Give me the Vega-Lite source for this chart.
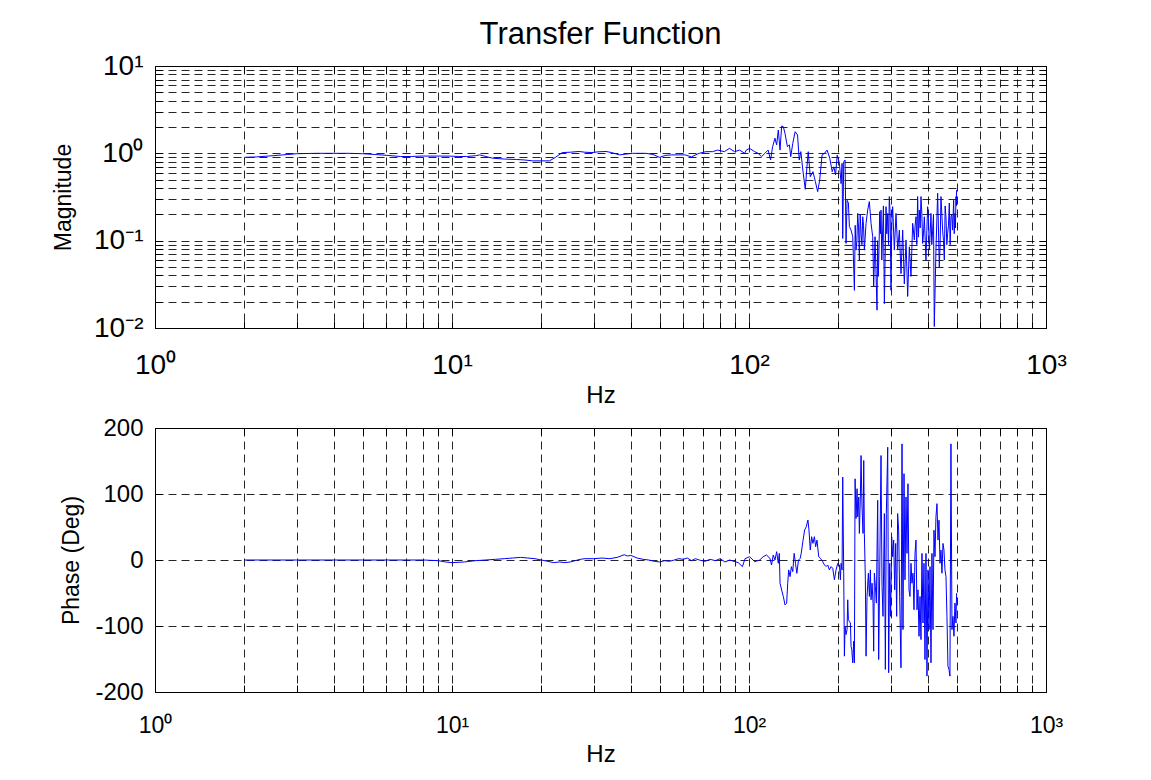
{
  "$schema": "https://vega.github.io/schema/vega-lite/v6.json",
  "background": "white",
  "padding": {"left": 52, "top": 18, "right": 10, "bottom": 10},
  "spacing": 100,
  "bounds": "flush",
  "config": {
    "view": {"stroke": "#000", "strokeWidth": 1},
    "font": "Liberation Sans",
    "axis": {
      "labelFont": "Liberation Sans", "titleFont": "Liberation Sans",
      "labelColor": "#000", "titleColor": "#000", "titleFontWeight": "normal",
      "domain": false, "gridColor": "#000", "gridDash": [8, 5], "gridOpacity": 0.85, "gridWidth": 1,
      "tickColor": "#000", "tickSize": -7, "labelOverlap": false, "labelFlush": false, "labelBound": false
    }
  },
  "datasets": {
    "mag": [
      {"f":2,"m":0.9},{"f":2.2,"m":0.91},{"f":2.5,"m":0.94},{"f":2.8,"m":0.97},{"f":3,"m":0.99},{"f":3.5,"m":1.0},{"f":4,"m":1.0},{"f":4.5,"m":1.0},{"f":5,"m":0.99},{"f":5.5,"m":0.97},{"f":6,"m":0.95},{"f":6.7,"m":0.92},{"f":7.3,"m":0.92},{"f":7.8,"m":0.93},{"f":8.5,"m":0.93},{"f":9.2,"m":0.93},{"f":9.8,"m":0.93},{"f":10.5,"m":0.92},{"f":11.2,"m":0.92},{"f":12,"m":0.94},{"f":12.4,"m":0.96},{"f":13,"m":0.92},{"f":13.7,"m":0.88},{"f":15,"m":0.86},{"f":16.5,"m":0.85},{"f":17.5,"m":0.84},{"f":18.7,"m":0.82},{"f":20,"m":0.82},{"f":21.3,"m":0.82},{"f":22.3,"m":0.9},{"f":23.5,"m":1.02},{"f":25,"m":1.03},{"f":26.8,"m":1.05},{"f":28,"m":1.03},{"f":29.6,"m":1.02},{"f":31,"m":1.04},{"f":33,"m":1.05},{"f":34.5,"m":1.02},{"f":36.6,"m":0.96},{"f":38.5,"m":0.98},{"f":40.5,"m":1.0},{"f":43,"m":1.0},{"f":45,"m":1.0},{"f":47.5,"m":0.97},{"f":50,"m":0.9},{"f":52.5,"m":0.95},{"f":55,"m":0.96},{"f":58,"m":0.96},{"f":61,"m":0.96},{"f":64,"m":0.91},{"f":67,"m":0.98},
      {"f":68,"m":1.0},{"f":71.6,"m":1.045},{"f":75.4,"m":1.045},{"f":78.4,"m":1.09},{"f":82.6,"m":1.045},{"f":85.9,"m":1.14},{"f":89.4,"m":1.045},{"f":93,"m":1.09},{"f":96.7,"m":1.0},{"f":97.9,"m":1.09},{"f":100.5,"m":1.14},{"f":104.5,"m":1.045},{"f":107.3,"m":1.0},{"f":110.2,"m":0.916},{"f":113.1,"m":1.0},{"f":116,"m":1.09},{"f":118.2,"m":0.84},{"f":120.1,"m":1.19},{"f":122.3,"m":1.49},{"f":123.9,"m":1.25},{"f":125.5,"m":1.85},{"f":127.2,"m":1.09},{"f":128.8,"m":2.05},{"f":130.5,"m":2.02},{"f":132.2,"m":1.69},{"f":134.7,"m":1.19},{"f":136.8,"m":1.25},{"f":138.2,"m":0.916},{"f":140.4,"m":1.3},{"f":143,"m":1.77},{"f":145.7,"m":1.62},{"f":147.6,"m":0.84},{"f":149.5,"m":1.045},{"f":151.8,"m":0.644},{"f":154.7,"m":0.387},{"f":156.7,"m":0.7},{"f":158.3,"m":1.045},{"f":160.8,"m":0.54},{"f":164.2,"m":0.617},{"f":167.3,"m":0.474},{"f":170.3,"m":0.364},{"f":173,"m":0.495},{"f":176.2,"m":0.957},{"f":179.5,"m":1.0},{"f":183.2,"m":1.09},{"f":187.1,"m":0.877},{"f":190.6,"m":0.617},{"f":193.1,"m":0.7},{"f":195.6,"m":0.565},{"f":198.2,"m":0.957},
      {"f":201.6,"m":0.77},{"f":204.2,"m":0.45},{"f":205.8,"m":0.77},{"f":206.8,"m":0.106},{"f":208.4,"m":0.8},{"f":210.6,"m":0.84},{"f":212.2,"m":0.093},{"f":213.9,"m":0.29},{"f":216.1,"m":0.27},{"f":217.8,"m":0.145},{"f":220.6,"m":0.132},{"f":223.5,"m":0.111},{"f":226.4,"m":0.027},{"f":227.8,"m":0.15},{"f":229.3,"m":0.078},{"f":230.8,"m":0.1},{"f":232.3,"m":0.205},{"f":233.8,"m":0.14},{"f":235.3,"m":0.06},{"f":236.8,"m":0.2},{"f":238.4,"m":0.121},{"f":240,"m":0.09},{"f":241.5,"m":0.188},{"f":243,"m":0.15},{"f":244.6,"m":0.078},{"f":247.8,"m":0.158},{"f":251,"m":0.224},{"f":254.2,"m":0.28},{"f":257.6,"m":0.158},{"f":260.9,"m":0.111},{"f":262.9,"m":0.03},{"f":265.7,"m":0.111},{"f":269.8,"m":0.016},{"f":271,"m":0.1},{"f":272.6,"m":0.039},{"f":274,"m":0.08},{"f":275.4,"m":0.215},{"f":277,"m":0.12},{"f":278.3,"m":0.224},{"f":280,"m":0.06},{"f":281.9,"m":0.132},{"f":283.5,"m":0.25},{"f":285.6,"m":0.019},{"f":287.5,"m":0.07},{"f":289.3,"m":0.245},{"f":291,"m":0.12},{"f":293.1,"m":0.205},{"f":295,"m":0.09},{"f":296.8,"m":0.32},{"f":298.7,"m":0.2},{"f":300.7,"m":0.027},{"f":302.5,"m":0.15},{"f":304.6,"m":0.245},{"f":308.6,"m":0.078},{"f":312.6,"m":0.205},{"f":316.7,"m":0.078},{"f":320.8,"m":0.132},{"f":324.9,"m":0.042},{"f":329.2,"m":0.132},{"f":333.4,"m":0.032},{"f":337.8,"m":0.102},{"f":342.2,"m":0.023},{"f":346.6,"m":0.085},{"f":351.1,"m":0.039},{"f":355.7,"m":0.158},{"f":360.3,"m":0.102},{"f":362.5,"m":0.15},{"f":365,"m":0.188},{"f":367.3,"m":0.09},{"f":369.7,"m":0.32},{"f":372,"m":0.11},{"f":374.5,"m":0.224},{"f":377,"m":0.14},{"f":379.4,"m":0.32},{"f":382,"m":0.2},{"f":384.3,"m":0.093},{"f":386.8,"m":0.12},{"f":389.3,"m":0.188},{"f":392,"m":0.1},{"f":394.3,"m":0.06},{"f":397,"m":0.13},{"f":399.5,"m":0.245},{"f":402,"m":0.18},{"f":404.7,"m":0.078},{"f":407.3,"m":0.12},{"f":409.9,"m":0.205},{"f":412.6,"m":0.09},{"f":415.3,"m":0.132},{"f":418,"m":0.2},{"f":420.6,"m":0.0104},{"f":426.1,"m":0.078},{"f":431.7,"m":0.35},{"f":437.3,"m":0.05},{"f":440,"m":0.09},{"f":443,"m":0.32},{"f":446,"m":0.2},{"f":448.7,"m":0.132},{"f":451.6,"m":0.1},{"f":454.6,"m":0.06},{"f":457.5,"m":0.25},{"f":460.5,"m":0.188},{"f":463.5,"m":0.09},{"f":466.5,"m":0.121},{"f":469.5,"m":0.15},{"f":472.5,"m":0.27},{"f":475.6,"m":0.09},{"f":478.7,"m":0.188},{"f":481.8,"m":0.2},{"f":484.9,"m":0.132},{"f":488.7,"m":0.29},{"f":491,"m":0.12},{"f":493.7,"m":0.205},{"f":495.6,"m":0.14},{"f":497.6,"m":0.32},{"f":499,"m":0.25},{"f":500,"m":0.38}
    ],
    "ph": [
      {"f":2,"p":0},{"f":3,"p":0},{"f":4,"p":0},{"f":5,"p":0},{"f":6,"p":0},{"f":7,"p":0},{"f":8,"p":0},{"f":9,"p":-1},{"f":9.5,"p":-3},{"f":10,"p":-4},{"f":11,"p":-3},{"f":12,"p":-1},{"f":13,"p":0},{"f":14,"p":1},{"f":15,"p":2},{"f":16,"p":3},{"f":17,"p":4},{"f":18,"p":3},{"f":19,"p":2},{"f":20,"p":0},{"f":21,"p":-2},{"f":22,"p":-4},{"f":23,"p":-3},{"f":24,"p":-4},{"f":25,"p":-3},{"f":26,"p":-1},{"f":27,"p":1},{"f":28,"p":2},{"f":30,"p":2},{"f":32,"p":3},{"f":34,"p":2},{"f":36,"p":4},{"f":38,"p":8},{"f":39,"p":6},{"f":40,"p":7},{"f":42,"p":3},{"f":44,"p":1},{"f":46,"p":0},{"f":48,"p":-2},{"f":50,"p":-3},{"f":52,"p":-1},{"f":54,"p":-2},{"f":56,"p":0},{"f":58,"p":2},{"f":60,"p":1},{"f":62,"p":3},{"f":64,"p":-1},{"f":66,"p":2},
      {"f":68,"p":0},{"f":71,"p":-2},{"f":74,"p":1},{"f":77,"p":-1},{"f":80,"p":2},{"f":83,"p":-3},{"f":86,"p":0},{"f":89,"p":-2},{"f":92,"p":-4},{"f":95,"p":-10},{"f":97,"p":2},
      {"f":100.5,"p":5},{"f":104.5,"p":-2.5},{"f":108.7,"p":0},{"f":111.6,"p":5},{"f":114.5,"p":7.6},{"f":117.6,"p":2.5},{"f":119.1,"p":-7.6},{"f":120.7,"p":7.6},{"f":122.3,"p":0},{"f":123.9,"p":12.6},{"f":125.5,"p":-5},{"f":126.5,"p":10.1},{"f":127.2,"p":-35.3},{"f":128.8,"p":-45.4},{"f":130.5,"p":-55.4},{"f":132.2,"p":-68},{"f":133.9,"p":-65.5},{"f":135,"p":-35.3},{"f":136,"p":-15.1},{"f":137.5,"p":-25.2},{"f":138.9,"p":-10.1},{"f":140.4,"p":-17.6},{"f":141.9,"p":10.1},{"f":143.4,"p":-5},{"f":144.9,"p":-20.2},{"f":146.8,"p":0},{"f":148.7,"p":2.5},{"f":149.9,"p":10.1},{"f":151.8,"p":27.7},{"f":153.9,"p":45.4},{"f":155.9,"p":50.4},{"f":157.9,"p":60.5},{"f":159.2,"p":45.4},{"f":160.8,"p":15.1},{"f":162.5,"p":35.3},{"f":164.2,"p":25.2},{"f":166,"p":35.3},{"f":167.7,"p":20.2},{"f":169.4,"p":30.2},{"f":171.7,"p":5},{"f":174,"p":2.5},
      {"f":177.1,"p":-2.5},{"f":179.5,"p":-7.5},{"f":181.8,"p":-10},{"f":184.1,"p":-7.5},{"f":186.5,"p":-15},{"f":189,"p":-10},{"f":191.4,"p":-12.6},{"f":193.9,"p":-30},{"f":196.4,"p":-15},{"f":199,"p":-5},{"f":201.6,"p":-7.5},{"f":203.1,"p":-30},{"f":204.2,"p":-5},{"f":205.8,"p":-15},{"f":206.8,"p":125.6},{"f":208.4,"p":-20},{"f":209.5,"p":-145.7},{"f":210.6,"p":-100.5},{"f":212.2,"p":-113},{"f":213.9,"p":-105.5},{"f":215,"p":-60.3},{"f":216.1,"p":-90.5},{"f":217.8,"p":-93},{"f":219.5,"p":-95.5},{"f":220.6,"p":-130.7},{"f":221.8,"p":-135.7},{"f":223.5,"p":-155.8},{"f":225.2,"p":-123},{"f":226.4,"p":-155.8},{"f":227.6,"p":123},{"f":229.3,"p":62.8},{"f":231.1,"p":108},{"f":232.3,"p":65.3},{"f":234.1,"p":95.5},{"f":235.3,"p":40.2},{"f":237.1,"p":95.5},{"f":238.4,"p":158.3},{"f":240.2,"p":80.4},{"f":242.1,"p":40.2},{"f":243.4,"p":150.8},{"f":244.6,"p":40.2},{"f":246.5,"p":-30},{"f":247.8,"p":-145.7},{"f":249.7,"p":-55.3},{"f":252.3,"p":-20},{"f":254.3,"p":-55.3},{"f":256.2,"p":-15},{"f":257.6,"p":-60.3},{"f":259.6,"p":-35.2},{"f":261.6,"p":-65.3},{"f":262.9,"p":-138.2},{"f":264.3,"p":-20},{"f":266.4,"p":-40.2},{"f":268.4,"p":-65.3},{"f":271.2,"p":90.5},{"f":273.3,"p":-150.8},{"f":275.4,"p":-25.1},{"f":278.3,"p":158.3},{"f":280.5,"p":-40.2},{"f":282.6,"p":-85.4},{"f":285.6,"p":70.4},{"f":287.8,"p":-165.8},{"f":290,"p":70.4},{"f":293.1,"p":170.9},{"f":295.3,"p":-170.9},{"f":297.6,"p":-5},{"f":299.9,"p":-85.4},{"f":302.3,"p":35.2},{"f":304.6,"p":5},{"f":307,"p":30.2},{"f":309.4,"p":-45.2},{"f":311.8,"p":25.1},{"f":314.2,"p":-85.4},{"f":316.6,"p":70.4},{"f":319.1,"p":45.2},{"f":321.6,"p":-55.3},{"f":324.9,"p":-163.3},{"f":327.5,"p":175.9},{"f":330,"p":-105.5},{"f":332.6,"p":130.7},{"f":335.1,"p":-30},{"f":337.8,"p":95.5},{"f":340.4,"p":10},{"f":343,"p":115.6},{"f":345.7,"p":-45.2},{"f":348.4,"p":-55.3},{"f":351.1,"p":-5},{"f":353.8,"p":-35.2},{"f":356.6,"p":-20},{"f":359.4,"p":-75.4},{"f":362.2,"p":10},{"f":365,"p":30.2},{"f":367.8,"p":-75.4},{"f":370.7,"p":-45.2},{"f":373.6,"p":-115.6},{"f":376.5,"p":-55.3},{"f":379.4,"p":-120.6},{"f":382.3,"p":10},{"f":385.3,"p":-95.5},{"f":388.3,"p":-5},{"f":391.3,"p":-150.8},{"f":394.4,"p":10},{"f":397.4,"p":-175.9},{"f":400.5,"p":-15},{"f":403.7,"p":-105.5},{"f":406.8,"p":-10},{"f":410,"p":-155.8},{"f":413.1,"p":10},{"f":416.4,"p":-105.5},{"f":419.6,"p":45.2},{"f":422.9,"p":5},{"f":426.1,"p":65.3},{"f":429.5,"p":85.4},{"f":432.8,"p":30.2},{"f":436.2,"p":60.3},{"f":439.6,"p":-5},{"f":443,"p":15.1},{"f":446.4,"p":-20},{"f":449.9,"p":25.1},{"f":453.4,"p":15.1},{"f":456.9,"p":-15},{"f":460.5,"p":-25.1},{"f":464,"p":-85.4},{"f":467.6,"p":-160.8},{"f":471.3,"p":-165.8},{"f":474.9,"p":-175.9},{"f":478.6,"p":175.9},{"f":482.4,"p":-105.5},{"f":486.1,"p":-85.4},{"f":489.9,"p":-115.6},{"f":493.7,"p":-65.3},{"f":497.5,"p":-95.5},{"f":500,"p":-50.3}
    ]
  },
  "vconcat": [
    {
      "width": 891,
      "height": 262,
      "title": {"text": "Transfer Function", "font": "Liberation Sans", "fontSize": 31, "fontWeight": "normal", "color": "#000", "anchor": "middle", "offset": 1},
      "layer": [
        {
          "data": {"name": "mag"},
          "mark": {"type": "line", "color": "#0000ff", "strokeWidth": 1, "clip": true},
          "encoding": {
            "x": {"field": "f", "type": "quantitative",
              "scale": {"type": "log", "domain": [1, 1000], "nice": false},
              "axis": {"orient": "bottom", "grid": true,
                "values": [1,2,3,4,5,6,7,8,9,10,20,30,40,50,60,70,80,90,100,200,300,400,500,600,700,800,900,1000],
                "labelExpr": "datum.value === 1 ? '10⁰' : datum.value === 10 ? '10¹' : datum.value === 100 ? '10²' : datum.value === 1000 ? '10³' : ''",
                "labelFontSize": 28, "labelPadding": 30, "title": "Hz", "titleFontSize": 24, "titlePadding": 4}},
            "y": {"field": "m", "type": "quantitative",
              "scale": {"type": "log", "domain": [0.01, 10], "nice": false},
              "axis": {"orient": "left", "grid": true,
                "values": [0.01,0.02,0.03,0.04,0.05,0.06,0.07,0.08,0.09,0.1,0.2,0.3,0.4,0.5,0.6,0.7,0.8,0.9,1,2,3,4,5,6,7,8,9,10],
                "labelExpr": "datum.value === 0.01 ? '10⁻²' : datum.value === 0.1 ? '10⁻¹' : datum.value === 1 ? '10⁰' : datum.value === 10 ? '10¹' : ''",
                "labelFontSize": 28, "labelPadding": 19, "title": "Magnitude", "titleFontSize": 23, "titlePadding": 18}}
          }
        },
        {
          "data": {"name": "mag"},
          "mark": {"type": "line", "opacity": 0},
          "encoding": {
            "x": {"field": "f", "type": "quantitative",
              "scale": {"type": "log", "domain": [1, 1000], "nice": false},
              "axis": {"orient": "top", "grid": false, "labels": false, "title": null,
                "values": [1,2,3,4,5,6,7,8,9,10,20,30,40,50,60,70,80,90,100,200,300,400,500,600,700,800,900,1000]}},
            "y": {"field": "m", "type": "quantitative",
              "scale": {"type": "log", "domain": [0.01, 10], "nice": false},
              "axis": {"orient": "right", "grid": false, "labels": false, "title": null,
                "values": [0.01,0.02,0.03,0.04,0.05,0.06,0.07,0.08,0.09,0.1,0.2,0.3,0.4,0.5,0.6,0.7,0.8,0.9,1,2,3,4,5,6,7,8,9,10]}}
          }
        }
      ],
      "resolve": {"axis": {"x": "independent", "y": "independent"}}
    },
    {
      "width": 891,
      "height": 264,
      "layer": [
        {
          "data": {"name": "ph"},
          "mark": {"type": "line", "color": "#0000ff", "strokeWidth": 1, "clip": true},
          "encoding": {
            "x": {"field": "f", "type": "quantitative",
              "scale": {"type": "log", "domain": [1, 1000], "nice": false},
              "axis": {"orient": "bottom", "grid": true,
                "values": [1,2,3,4,5,6,7,8,9,10,20,30,40,50,60,70,80,90,100,200,300,400,500,600,700,800,900,1000],
                "labelExpr": "datum.value === 1 ? '10⁰' : datum.value === 10 ? '10¹' : datum.value === 100 ? '10²' : datum.value === 1000 ? '10³' : ''",
                "labelFontSize": 23, "labelPadding": 29, "title": "Hz", "titleFontSize": 24, "titlePadding": 5}},
            "y": {"field": "p", "type": "quantitative",
              "scale": {"domain": [-200, 200], "nice": false},
              "axis": {"orient": "left", "grid": true, "values": [-200,-100,0,100,200],
                "labelExpr": "'' + datum.value",
                "labelFontSize": 24, "labelPadding": 19, "title": "Phase (Deg)", "titleFontSize": 23, "titlePadding": 11}}
          }
        },
        {
          "data": {"name": "ph"},
          "mark": {"type": "line", "opacity": 0},
          "encoding": {
            "x": {"field": "f", "type": "quantitative",
              "scale": {"type": "log", "domain": [1, 1000], "nice": false},
              "axis": {"orient": "top", "grid": false, "labels": false, "title": null,
                "values": [1,2,3,4,5,6,7,8,9,10,20,30,40,50,60,70,80,90,100,200,300,400,500,600,700,800,900,1000]}},
            "y": {"field": "p", "type": "quantitative",
              "scale": {"domain": [-200, 200], "nice": false},
              "axis": {"orient": "right", "grid": false, "labels": false, "title": null, "values": [-200,-100,0,100,200]}}
          }
        }
      ],
      "resolve": {"axis": {"x": "independent", "y": "independent"}}
    }
  ]
}
